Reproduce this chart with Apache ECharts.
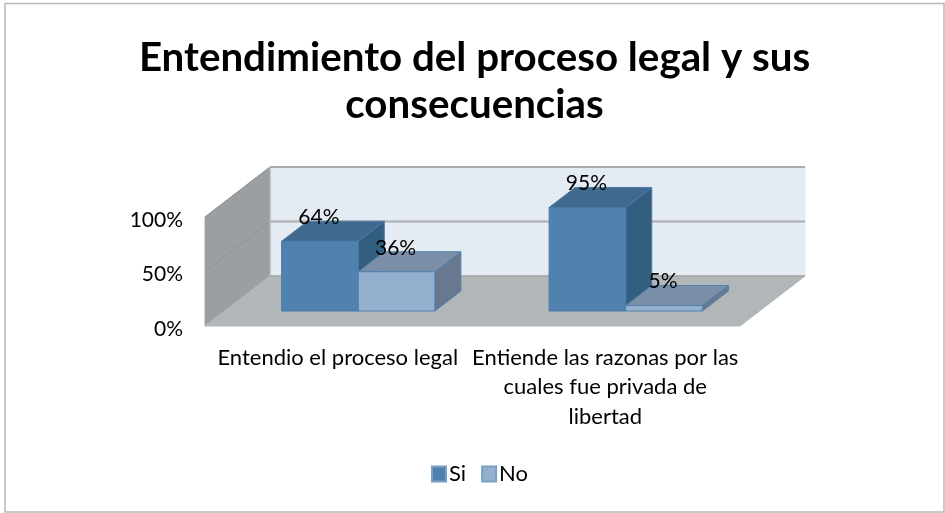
<!DOCTYPE html>
<html>
<head>
<meta charset="utf-8">
<style>
	html, body { margin: 0; padding: 0; background: #fff; }
	#chart { width: 945px; height: 513px; }
</style>
<script src="https://cdn.jsdelivr.net/npm/echarts@6/dist/echarts.min.js"></script>
</head>
<body>
<div id="chart"></div>
<script>
var titleText = 'Entendimiento del proceso legal y sus\nconsecuencias'
var categories = ['Entendio el proceso legal', 'Entiende las razonas por las\ncuales fue privada de\nlibertad']
var siValues = [64, 95]
var noValues = [36, 5]
var yTicks = [0, 50, 100]

var fontName = 'Lato'
var wallDepth = [65, -50] // front of the floor to the back wall
var barStart = [19.5, -15] // front of the floor to the front of a bar
var barDepth = [26, -20]
var barRatio = 0.2865 // bar width / category width

function shiftPoint(p, d) {
	return [p[0] + d[0], p[1] + d[1]]
}

function face(points, fill, stroke) {
	return {
		type: 'polygon',
		shape: { points: points },
		style: { fill: fill, stroke: stroke, lineWidth: 1 },
	}
}

function renderWalls(params, api) {
	var box = params.coordSys
	var left = box.x
	var right = box.x + box.width
	var y0 = api.coord([0, yTicks[0]])[1]
	var children = []
	var frontFloorL = [left, y0]
	var frontFloorR = [right, y0]
	var backFloorL = shiftPoint(frontFloorL, wallDepth)
	var backFloorR = shiftPoint(frontFloorR, wallDepth)
	var yTop = api.coord([0, yTicks[2]])[1]
	var frontTop = [left, yTop]
	var backTopL = shiftPoint(frontTop, wallDepth)
	var backTopR = [backFloorR[0], backTopL[1]]

	children.push(face([backTopL, backTopR, backFloorR, backFloorL], '#e4ebf3', '#e4ebf3'))
	children.push(face([frontTop, backTopL, backFloorL, frontFloorL], '#9b9fa1', '#a3a7a8'))
	children.push(face([frontFloorL, frontFloorR, backFloorR, backFloorL], '#b1b6b8', '#b1b6b8'))

	yTicks.slice(1).forEach(function (tick) {
		var y = api.coord([0, tick])[1]
		var a = [left, y]
		var b = shiftPoint(a, wallDepth)
		var c = [backFloorR[0], b[1]]
		children.push({ type: 'line', shape: { x1: a[0], y1: a[1], x2: b[0], y2: b[1] }, style: { stroke: '#8f9394', lineWidth: 1 } })
		children.push({ type: 'line', shape: { x1: b[0], y1: b[1], x2: c[0], y2: c[1] }, style: { stroke: '#a9adae', lineWidth: 2 } })
	})
	children.push({ type: 'line', shape: { x1: backFloorL[0], y1: backFloorL[1], x2: backFloorR[0], y2: backFloorR[1] }, style: { stroke: '#a3a8a9', lineWidth: 1.5 } })
	children.push({ type: 'line', shape: { x1: backTopL[0], y1: backTopL[1], x2: backFloorL[0], y2: backFloorL[1] }, style: { stroke: '#b4b9ba', lineWidth: 1 } })

	return { type: 'group', children: children }
}

function barRenderer(side, colors) {
	return function (params, api) {
		var i = api.value(0)
		var val = api.value(1)
		var band = api.size([1, 0])[0]
		var w = band * barRatio
		var top = api.coord([i, val])
		var base = api.coord([i, 0])
		var xL = top[0] + (side === 0 ? -w : 0) + barStart[0]
		var xR = xL + w
		var yB = base[1] + barStart[1]
		var yT = top[1] + barStart[1]
		var a = [xL, yT]
		var b = [xR, yT]
		var c = [xR, yB]
		var d = [xL, yB]
		return {
			type: 'group',
			children: [
				face([b, shiftPoint(b, barDepth), shiftPoint(c, barDepth), c], colors.side, colors.line),
				face([a, shiftPoint(a, barDepth), shiftPoint(b, barDepth), b], colors.top, colors.line),
				face([a, b, c, d], colors.front, colors.line),
				{
					type: 'text',
					z2: 10,
					style: {
						x: (xL + xR) / 2 - 1,
						y: yT - 24,
						text: val + '%',
						fill: '#000',
						font: '21px ' + fontName,
						align: 'center',
						verticalAlign: 'middle',
					},
				},
			],
		}
	}
}

var chartDom = document.getElementById('chart')
var myChart = echarts.init(chartDom)
var option

option = {
	animation: false,
	backgroundColor: '#fff',
	title: {
		text: titleText,
		left: 469.5,
		textAlign: 'center',
		top: 30,
		textStyle: {
			fontFamily: fontName,
			fontSize: 40.3,
			fontWeight: 'bold',
			color: '#000',
			lineHeight: 47,
		},
	},
	legend: {
		data: ['Si', 'No'],
		left: 426,
		top: 458,
		icon: 'rect',
		itemWidth: 14,
		itemHeight: 15,
		itemGap: 15,
		textStyle: {
			fontFamily: fontName,
			fontSize: 22,
			color: '#000',
			padding: [0, 0, 0, -2],
		},
	},
	grid: {
		left: 205,
		width: 535,
		top: 217,
		height: 109,
	},
	xAxis: {
		type: 'category',
		data: categories,
		axisLine: { show: false },
		axisTick: { show: false },
		axisLabel: {
			interval: 0,
			margin: 17,
			color: '#000',
			fontFamily: fontName,
			fontSize: 22,
			lineHeight: 29.5,
			padding: [0, 2, 0, 0],
		},
	},
	yAxis: {
		type: 'value',
		min: yTicks[0],
		max: yTicks[2],
		interval: yTicks[1],
		splitLine: { show: false },
		axisLine: { show: false },
		axisTick: { show: false },
		axisLabel: {
			margin: 22,
			color: '#000',
			fontFamily: fontName,
			fontSize: 21,
			verticalAlign: 'top',
			lineHeight: 6,
			formatter: '{value}%',
		},
	},
	graphic: [
		{
			type: 'rect',
			silent: true,
			shape: { x: 5, y: 3.5, width: 939, height: 508.5 },
			style: { fill: null, stroke: '#b5b9b9', lineWidth: 1.5 },
		},
	],
	series: [
		{
			name: 'walls',
			type: 'custom',
			coordinateSystem: 'cartesian2d',
			clip: false,
			silent: true,
			z: 1,
			data: [[0, 0]],
			renderItem: renderWalls,
		},
		{
			name: 'Si',
			type: 'custom',
			coordinateSystem: 'cartesian2d',
			clip: false,
			z: 2,
			itemStyle: { color: '#4f81ae', borderColor: '#7ba0c4', borderWidth: 1 },
			data: siValues.map(function (v, i) { return [i, v] }),
			encode: { x: 0, y: 1 },
			renderItem: barRenderer(0, { front: '#4f82ae', side: '#325f80', top: '#41698e', line: '#4a7ba6' }),
		},
		{
			name: 'No',
			type: 'custom',
			coordinateSystem: 'cartesian2d',
			clip: false,
			z: 3,
			itemStyle: { color: '#95b0cf', borderColor: '#7ba0c4', borderWidth: 1 },
			data: noValues.map(function (v, i) { return [i, v] }),
			encode: { x: 0, y: 1 },
			renderItem: barRenderer(1, { front: '#95b0cf', side: '#68788f', top: '#7b8fa8', line: '#4f81ae' }),
		},
	],
}

option && myChart.setOption(option)
</script>
</body>
</html>
